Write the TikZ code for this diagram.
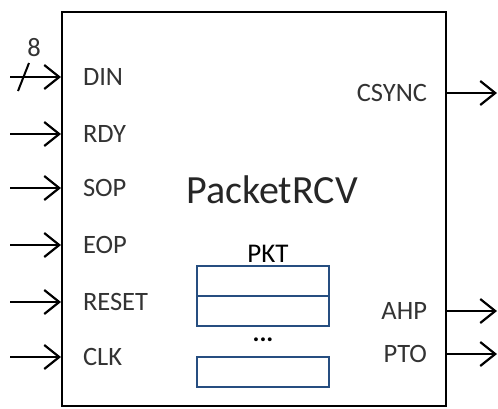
\documentclass[tikz,border=0pt]{standalone}
\usepackage{fontspec}
\setmainfont{Carlito}
\usetikzlibrary{arrows.meta,positioning}

\definecolor{fifoblue}{RGB}{38,78,128}

\begin{document}
\begin{tikzpicture}[x=1pt, y=-1pt, line width=2pt,
			sig/.style={-{Straight Barb[length=15pt,width=24pt,line width=2.2pt]}},
			port/.style={font=\fontsize{26.5}{30}\selectfont, text=black!80, inner sep=0pt},
			slot/.style={draw=fifoblue, minimum width=132pt, minimum height=30pt, inner sep=0pt, outer sep=0pt}]
			\useasboundingbox (0,0) rectangle (498,408);
			\node[draw, minimum width=384pt, minimum height=394pt, inner sep=0pt] (rcv) at (254,209) {};
			\node[font=\fontsize{40}{44}\selectfont, text=black!85] (title) at (272,190) {PacketRCV};
			% inputs on the left
			\foreach \name/\y in {DIN/77,RDY/134,SOP/188,EOP/245,RESET/302,CLK/357}{
				\node[port, anchor=west] (\name) at (82,\y) {\name};
				\coordinate (\name-src) at (10,\y);
				\draw[sig] (\name-src) -- (\name-src -| rcv.west);
			}
			% bus width mark on DIN
			\coordinate (bus-a) at (18,91);
			\coordinate (bus-b) at (29,63);
			\draw[line width=2pt] (bus-a) -- (bus-b);
			\node[port] (width) at (34,48) {8};
			% outputs on the right
			\foreach \name/\y in {CSYNC/93,AHP/311,PTO/354}{
				\node[port, anchor=east] (\name) at (428,\y) {\name};
				\coordinate (\name-dst) at (497,\y);
				\draw[sig] (\name-dst -| rcv.east) -- (\name-dst);
			}
			% packet buffer
			\node[font=\fontsize{27}{30}\selectfont, inner sep=0pt] (pkt) at (268,254) {PKT};
			\node[slot] (slot1) at (263,281) {};
			\node[slot, below=0pt of slot1] (slot2) {};
			\node[font=\fontsize{26}{30}\bfseries, inner sep=0pt] (dots) at (263,340) {...};
			\node[slot] (slotn) at (263,371.5) {};
		\end{tikzpicture}
\end{document}
